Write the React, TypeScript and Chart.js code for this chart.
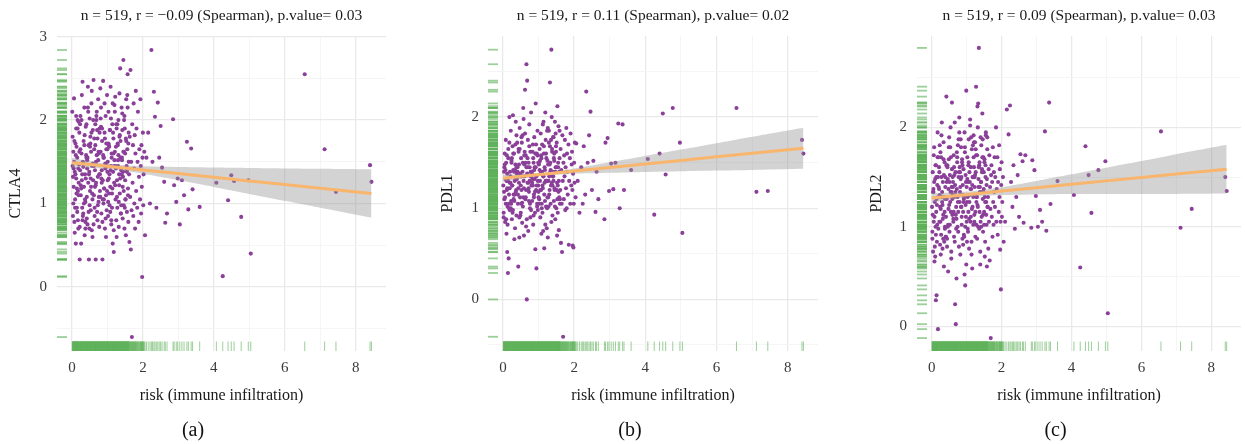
import React, { useEffect, useRef } from 'react';
import { Chart, registerables } from 'chart.js';
Chart.register(...registerables);

// ---- shared risk score (x) ----
const riskX = [
  0.01, 0.02, 0.03, 0.04, 0.05, 0.06, 0.07, 0.08, 0.09, 0.10,
  0.11, 0.12, 0.12, 0.13, 0.14, 0.15, 0.16, 0.17, 0.18, 0.19,
  0.02, 0.04, 0.06, 0.08, 0.10, 0.13, 0.15, 0.17, 0.19, 0.20,
  0.21, 0.22, 0.23, 0.24, 0.25, 0.26, 0.27, 0.28, 0.29, 0.30,
  0.31, 0.32, 0.33, 0.34, 0.35, 0.36, 0.37, 0.38, 0.39, 0.40,
  0.22, 0.24, 0.26, 0.28, 0.30, 0.32, 0.34, 0.36, 0.38, 0.39,
  0.41, 0.42, 0.43, 0.44, 0.45, 0.46, 0.47, 0.48, 0.49, 0.50,
  0.51, 0.52, 0.53, 0.54, 0.55, 0.56, 0.57, 0.58, 0.59, 0.60,
  0.42, 0.44, 0.46, 0.48, 0.50, 0.52, 0.54, 0.56, 0.58, 0.59,
  0.61, 0.62, 0.63, 0.64, 0.65, 0.66, 0.67, 0.68, 0.69, 0.70,
  0.71, 0.72, 0.73, 0.74, 0.75, 0.76, 0.77, 0.78, 0.79, 0.80,
  0.62, 0.64, 0.66, 0.67, 0.69, 0.72, 0.74, 0.76, 0.78, 0.79,
  0.81, 0.82, 0.83, 0.84, 0.85, 0.86, 0.87, 0.88, 0.89, 0.90,
  0.91, 0.92, 0.93, 0.94, 0.95, 0.96, 0.97, 0.98, 0.99, 1.00,
  0.82, 0.84, 0.86, 0.88, 0.90, 0.92, 0.94, 0.96, 0.97, 0.99,
  1.01, 1.02, 1.03, 1.04, 1.05, 1.06, 1.07, 1.08, 1.09, 1.10,
  1.11, 1.12, 1.13, 1.14, 1.15, 1.16, 1.17, 1.18, 1.19, 1.20,
  1.02, 1.04, 1.06, 1.08, 1.10, 1.12, 1.14, 1.16, 1.18, 1.19,
  1.21, 1.22, 1.23, 1.24, 1.25, 1.26, 1.27, 1.28, 1.29, 1.30,
  1.31, 1.32, 1.33, 1.34, 1.35, 1.36, 1.37, 1.38, 1.39, 1.40,
  1.22, 1.24, 1.26, 1.28, 1.30, 1.32, 1.34, 1.36, 1.37, 1.39,
  1.41, 1.42, 1.43, 1.44, 1.45, 1.46, 1.47, 1.48, 1.49, 1.50,
  1.51, 1.52, 1.53, 1.54, 1.55, 1.56, 1.57, 1.58, 1.59, 1.60,
  1.42, 1.44, 1.46, 1.48, 1.50, 1.52, 1.54, 1.56, 1.58, 1.59,
  1.61, 1.62, 1.63, 1.64, 1.65, 1.66, 1.67, 1.68, 1.69, 1.70,
  1.71, 1.72, 1.73, 1.74, 1.75, 1.76, 1.77, 1.78, 1.79, 1.80,
  1.81, 1.82, 1.84, 1.85, 1.86, 1.88, 1.89, 1.90, 1.92, 1.93,
  1.94, 1.95, 1.96, 1.97, 1.98, 1.99, 2.00, 2.01, 2.02, 2.04,
  0.03, 0.07, 0.09, 0.11, 0.14, 0.16, 0.18, 0.05, 0.12, 0.19,
  0.21, 0.25, 0.27, 0.31, 0.33, 0.35, 0.37, 0.23, 0.29, 0.38,
  0.43, 0.45, 0.47, 0.51, 0.53, 0.55, 0.57, 0.41, 0.49, 0.60,
  0.63, 0.65, 0.68, 0.70, 0.73, 0.75, 0.77, 0.61, 0.71, 0.80,
  0.83, 0.85, 0.87, 0.89, 0.93, 0.95, 0.98, 0.81, 0.91, 1.00,
  1.03, 1.05, 1.07, 1.09, 1.13, 1.15, 1.17, 1.01, 1.11, 1.20,
  1.23, 1.25, 1.27, 1.29, 1.33, 1.35, 1.38, 1.21, 1.31, 1.40,
  1.43, 1.45, 1.47, 1.49, 1.53, 1.55, 1.57, 1.41, 1.51, 1.60,
  2.06, 2.10, 2.15, 2.20, 2.24, 2.27, 2.31, 2.34, 2.38, 2.42,
  2.46, 2.50, 2.54, 2.60, 2.63, 2.68, 2.85, 2.88, 2.94, 2.98,
  3.04, 3.10, 3.16, 3.24, 3.28, 3.36, 3.40, 3.60, 4.07, 4.25,
  4.40, 4.49, 4.57, 4.77, 4.97, 5.04, 6.56, 7.12, 7.44, 8.40,
  8.44,
];

// ---- CTLA4 expression ----
const ctla4 = [
  2.10, 1.45, 0.85, 1.62, 1.20, 2.26, 0.78, 1.38, 1.05, 1.72,
  0.52, 1.30, 1.90, 1.12, 0.95, 1.55, 2.00, 0.80, 1.42, 1.25,
  1.80, 1.00, 1.50, 0.65, 1.35, 1.68, 0.90, 1.15, 1.98, 1.47,
  1.85, 0.72, 1.40, 2.05, 1.10, 0.52, 1.60, 1.28, 0.95, 2.46,
  1.50, 0.88, 1.75, 1.20, 2.15, 0.62, 1.35, 1.02, 1.92, 1.58,
  0.33, 1.65, 1.18, 2.30, 0.80, 1.44, 1.00, 1.82, 0.70, 1.30,
  1.95, 1.08, 1.52, 0.75, 2.40, 1.25, 1.70, 0.33, 1.38, 2.02,
  1.15, 1.80, 0.92, 1.62, 2.20, 0.68, 1.45, 1.05, 1.88, 1.28,
  0.82, 1.55, 2.10, 1.35, 0.98, 1.72, 1.20, 2.35, 0.60, 1.48,
  2.48, 1.10, 1.65, 0.85, 1.40, 1.95, 0.33, 1.25, 2.05, 1.58,
  0.90, 1.78, 1.32, 2.25, 1.02, 1.60, 0.72, 1.85, 1.15, 2.38,
  1.45, 0.95, 1.70, 1.22, 2.00, 0.80, 1.52, 1.08, 1.90, 1.35,
  1.62, 2.15, 0.88, 1.40, 1.75, 0.33, 1.28, 2.47, 1.00, 1.55,
  1.18, 1.85, 0.70, 1.48, 2.05, 1.10, 1.65, 0.92, 2.30, 1.38,
  1.92, 1.25, 0.78, 1.58, 1.05, 2.20, 1.42, 0.60, 1.72, 1.15,
  1.50, 0.85, 2.10, 1.30, 1.68, 0.98, 1.88, 1.20, 2.40, 1.45,
  0.75, 1.60, 1.12, 1.95, 0.52, 1.38, 1.78, 0.42, 1.25, 2.18,
  1.02, 1.70, 1.35, 0.90, 2.02, 1.55, 1.18, 1.85, 0.68, 1.45,
  1.62, 2.28, 1.05, 1.42, 0.80, 1.90, 1.28, 0.95, 1.72, 1.52,
  2.00, 0.72, 1.35, 1.80, 1.12, 2.62, 1.55, 0.88, 1.40, 2.15,
  1.22, 1.68, 0.60, 1.95, 1.45, 1.02, 2.32, 1.30, 1.75, 0.98,
  1.55, 2.08, 0.82, 1.38, 2.72, 1.15, 1.62, 0.70, 1.90, 1.28,
  1.05, 1.78, 2.25, 1.40, 0.90, 1.65, 2.55, 1.18, 0.78, 1.50,
  1.88, 1.32, 0.98, 2.05, 1.60, 0.62, 1.45, 2.30, 1.10, 1.72,
  1.35, 0.54, 1.80, 1.08, 2.60, 0.45, 1.50, 0.92, -0.60, 1.95,
  1.25, 1.70, 0.85, 2.20, 1.42, 1.00, 1.82, 0.70, 1.60, 2.35,
  1.15, 1.90, 0.95, 1.50, 2.10, 0.78, 1.32, 1.65, 1.05, 2.25,
  1.45, 0.88, 1.70, 1.20, 0.12, 1.55, 1.85, 0.98, 1.35, 1.62,
  1.32, 1.75, 0.95, 1.58, 1.18, 1.90, 0.70, 1.42, 2.05, 1.10,
  1.62, 1.22, 2.00, 0.85, 1.48, 1.70, 1.05, 1.95, 1.35, 0.78,
  1.42, 2.15, 0.90, 1.68, 1.30, 1.85, 1.12, 1.55, 0.70, 2.00,
  1.78, 1.20, 1.50, 2.10, 0.98, 1.62, 1.35, 0.75, 1.88, 1.08,
  1.30, 1.90, 1.05, 1.55, 1.78, 0.82, 1.45, 2.02, 1.18, 1.65,
  1.72, 1.12, 1.88, 1.40, 0.95, 2.20, 1.60, 1.28, 0.80, 1.52,
  1.45, 1.95, 1.08, 1.70, 1.22, 1.82, 0.88, 2.10, 1.58, 1.35,
  1.20, 1.62, 2.00, 0.95, 1.75, 1.38, 2.15, 1.52, 1.05, 1.85,
  0.62, 1.55, 1.85, 1.00, 2.84, 1.50, 2.34, 2.04, 0.95, 2.21,
  1.55, 1.93, 1.43, 1.26, 0.77, 0.88, 2.01, 1.22, 1.02, 1.30,
  0.75, 1.28, 1.10, 1.74, 0.93, 1.66, 1.17, 0.96, 1.25, 0.13,
  1.04, 1.34, 1.27, 0.84, 1.28, 0.40, 2.55, 1.65, 1.14, 1.46,
  1.26,
];

// ---- PDL1 expression ----
const pdl1 = [
  1.25, 0.95, 1.40, 1.10, 1.60, 0.85, 1.32, 1.05, 1.50, 0.72,
  1.20, 0.52, 1.38, 1.02, 0.29, 1.65, 0.45, 1.15, 2.00, 1.28,
  0.90, 1.45, 1.12, 1.75, 1.30, 0.82, 1.55, 1.00, 1.22, 1.40,
  1.35, 1.85, 1.05, 1.50, 0.88, 1.25, 1.68, 0.98, 1.42, 1.15,
  1.60, 1.08, 1.30, 0.78, 1.48, 1.95, 1.20, 0.92, 1.38, 1.72,
  1.00, 1.52, 1.25, 2.02, 1.10, 0.66, 1.42, 1.18, 1.80, 1.32,
  1.45, 1.05, 0.36, 1.62, 1.28, 0.68, 1.88, 1.12, 1.35, 0.95,
  1.55, 1.20, 1.72, 0.84, 1.40, 1.02, 2.10, 1.30, 0.70, 1.48,
  1.15, 1.65, 0.90, 1.38, 1.25, 1.78, 1.06, 1.50, 1.98, 1.22,
  1.35, 2.30, 1.10, 1.58, 0.80, 2.58, 0.00, 2.40, 1.28, 1.45,
  0.75, 1.50, 1.18, 1.92, 1.30, 1.05, 1.62, 1.40, 0.98, 1.25,
  1.82, 1.12, 1.45, 0.88, 1.55, 1.22, 1.68, 1.00, 1.35, 2.05,
  1.40, 1.08, 1.62, 1.25, 0.82, 1.50, 1.15, 1.78, 1.32, 0.95,
  0.55, 1.45, 1.20, 0.34, 1.60, 1.02, 1.85, 1.30, 1.50, 1.12,
  1.28, 1.70, 0.92, 1.42, 1.18, 2.15, 1.35, 1.05, 1.58, 1.25,
  1.48, 1.10, 1.65, 1.30, 0.90, 1.82, 1.20, 1.55, 1.00, 1.40,
  1.25, 1.92, 0.75, 1.35, 1.60, 0.56, 1.45, 1.08, 2.05, 1.30,
  1.05, 1.52, 1.38, 0.72, 1.70, 1.22, 1.95, 1.15, 1.42, 0.82,
  1.60, 1.30, 0.78, 1.85, 1.12, 0.68, 1.48, 1.02, 1.72, 1.35,
  1.20, 2.38, 1.50, 1.05, 1.75, 2.74, 1.28, 1.62, 0.92, 1.40,
  1.55, 1.00, 1.88, 1.30, 1.15, 1.68, 1.42, 0.85, 2.00, 1.25,
  1.35, 1.78, 1.08, 1.52, 1.20, 1.95, 0.88, 1.45, 1.62, 1.00,
  1.72, 1.28, 2.12, 0.95, 1.50, 1.18, 0.76, 1.40, 1.85, 1.10,
  1.30, 1.60, 1.02, 1.82, 1.45, 0.70, 1.25, 1.90, 1.12, 1.55,
  1.20, 1.65, 0.62, 1.42, 1.05, 0.52, 1.80, 1.30, -0.41, 1.50,
  1.10, 1.58, 1.35, 1.75, 0.98, 1.45, 1.22, 1.88, 1.00, 1.60,
  1.40, 1.15, 1.70, 0.60, 1.30, 1.55, 1.05, 1.82, 1.25, 1.48,
  1.62, 1.20, 0.59, 1.38, 0.57, 1.05, 1.50, 1.28, 1.72, 1.12,
  1.18, 1.42, 0.88, 1.58, 1.30, 1.05, 1.72, 1.48, 1.22, 0.98,
  1.28, 1.55, 0.95, 1.40, 1.15, 1.70, 1.32, 1.08, 1.60, 1.45,
  1.22, 1.48, 1.65, 1.05, 1.35, 1.80, 1.12, 1.40, 0.92, 1.58,
  1.50, 1.20, 1.38, 1.75, 1.08, 1.45, 0.90, 1.62, 1.28, 1.40,
  1.32, 1.55, 1.12, 1.45, 1.70, 1.25, 0.98, 1.38, 1.60, 1.18,
  1.42, 1.20, 1.58, 1.05, 1.35, 1.68, 1.28, 1.50, 0.95, 1.75,
  1.30, 1.52, 1.12, 1.85, 1.40, 1.25, 1.65, 1.02, 1.48, 1.35,
  1.55, 1.22, 1.40, 1.68, 1.10, 1.45, 1.30, 1.78, 1.20, 1.05,
  1.71, 1.30, 0.95, 1.45, 1.05, 1.68, 1.15, 2.28, 1.50, 1.80,
  2.06, 1.20, 1.52, 0.96, 1.40, 1.10, 0.88, 1.72, 1.77, 1.19,
  1.49, 1.21, 1.50, 1.93, 1.00, 1.92, 1.20, 1.42, 1.54, 0.93,
  1.60, 2.04, 1.37, 2.10, 1.72, 0.73, 2.10, 1.18, 1.19, 1.75,
  1.60,
];

// ---- PDL2 expression ----
const pdl2 = [
  1.20, 0.95, 1.55, 0.75, 1.38, 1.05, 1.80, 0.65, 1.25, 1.48,
  1.00, 0.26, 1.62, 1.15, 0.31, 0.85, 1.42, 1.70, -0.03, 1.30,
  0.88, 1.35, 1.72, 1.10, 0.70, 1.50, 1.22, 1.95, 0.98, 1.40,
  1.60, 1.05, 1.32, 0.82, 1.75, 1.18, 0.92, 1.50, 2.05, 1.25,
  0.78, 1.45, 1.12, 1.85, 0.60, 1.30, 1.65, 1.00, 1.40, 0.90,
  1.55, 1.20, 0.72, 1.92, 1.35, 1.08, 1.68, 0.85, 1.28, 1.50,
  1.10, 2.31, 1.45, 0.80, 1.62, 1.00, 0.55, 1.38, 1.80, 1.22,
  0.95, 1.52, 1.25, 2.00, 1.70, 0.75, 1.40, 2.25, 1.12, 1.32,
  1.62, 0.88, 1.48, 1.18, 1.90, 1.02, 1.35, 0.68, 1.58, 1.28,
  1.45, 1.08, 1.72, 0.90, 1.30, 2.05, 0.22, 1.55, 0.02, 1.20,
  0.48, 1.38, 1.65, 1.00, 1.82, 1.15, 1.50, 0.80, 1.95, 1.25,
  1.05, 1.60, 0.85, 1.42, 1.12, 1.75, 1.30, 0.95, 1.55, 2.10,
  1.35, 0.72, 1.88, 1.20, 1.50, 1.02, 1.68, 0.88, 1.42, 1.15,
  1.58, 0.92, 1.30, 0.52, 1.75, 0.41, 1.22, 1.45, 2.37, 1.05,
  1.40, 1.80, 1.10, 1.62, 0.82, 1.28, 1.95, 1.00, 1.52, 0.62,
  1.25, 1.70, 0.98, 1.45, 1.15, 1.88, 0.78, 1.55, 1.32, 2.02,
  1.05, 1.60, 1.38, 0.85, 1.78, 0.58, 1.20, 1.50, 1.02, 1.92,
  1.48, 0.95, 1.65, 1.25, 2.08, 1.10, 0.72, 1.42, 1.82, 1.30,
  1.60, 1.12, 1.40, 1.85, 0.90, 1.55, 2.41, 1.02, 1.30, 1.72,
  2.21, 1.20, 2.24, 1.48, 2.80, 0.98, 1.65, 1.35, 0.62, 1.90,
  1.05, 1.52, 1.78, 1.25, 0.88, 2.00, 1.40, 1.62, 1.15, 0.75,
  1.45, 1.82, 1.10, 1.58, 2.14, 1.28, 0.95, 1.70, 1.38, 1.02,
  1.68, 1.30, 0.85, 1.50, 1.95, 1.12, 1.42, 0.60, 1.78, 1.20,
  1.00, 1.55, 1.88, 1.35, 1.15, 0.70, 1.62, 1.25, 1.48, 1.90,
  1.30, 0.78, 1.58, 1.05, 1.72, 0.66, 1.40, 1.18, -0.12, 1.52,
  1.62, 1.10, 1.45, 0.90, 1.80, 1.25, 1.02, 1.55, 1.35, 1.70,
  1.20, 1.50, 2.00, 1.05, 1.38, 1.70, 0.92, 1.45, 1.15, 1.82,
  1.30, 1.58, 0.77, 1.05, 0.37, 1.42, 1.65, 1.10, 1.25, 1.50,
  1.12, 1.45, 0.80, 1.62, 1.28, 1.02, 1.50, 1.35, 0.92, 1.70,
  1.38, 1.05, 1.70, 1.22, 0.88, 1.52, 1.15, 1.82, 1.30, 0.98,
  1.28, 1.60, 1.02, 1.45, 1.80, 1.15, 1.35, 0.90, 1.68, 1.50,
  1.15, 1.52, 1.35, 0.98, 1.70, 1.25, 1.88, 1.40, 1.08, 1.60,
  1.48, 1.20, 1.65, 1.32, 0.90, 1.80, 1.10, 1.55, 1.25, 1.40,
  1.30, 1.62, 1.08, 1.45, 1.90, 1.18, 1.50, 0.85, 1.38, 1.70,
  1.50, 1.15, 1.72, 1.30, 1.00, 1.60, 1.40, 1.85, 1.22, 1.05,
  1.35, 1.70, 1.12, 1.55, 1.25, 1.92, 1.02, 1.45, 1.65, 1.20,
  0.85, 1.05, 2.18, 1.93, 2.22, 1.45, 1.20, 1.62, 0.98, 1.30,
  1.52, 1.10, 1.73, 1.66, 1.04, 1.72, 0.99, 1.67, 1.57, 1.31,
  1.00, 1.17, 1.05, 1.96, 0.96, 2.25, 1.23, 1.46, 1.32, 0.59,
  1.81, 1.52, 1.14, 1.57, 1.66, 0.13, 1.96, 0.99, 1.18, 1.50,
  1.36,
];

// ---- linear fit with 95% band ----
const bandX = [0, 0.6, 1.2, 2, 3, 4, 5, 6, 7, 8.44];
const ctla4Fit = [1.49, 1.464, 1.437, 1.402, 1.359, 1.315, 1.271, 1.227, 1.183, 1.12];
const ctla4Low = [1.433, 1.426, 1.407, 1.358, 1.281, 1.199, 1.116, 1.033, 0.949, 0.83];
const ctla4High = [1.547, 1.502, 1.467, 1.446, 1.437, 1.431, 1.426, 1.421, 1.417, 1.41];
const pdl1Fit = [1.33, 1.353, 1.377, 1.408, 1.447, 1.486, 1.525, 1.564, 1.603, 1.659];
const pdl1Low = [1.29, 1.329, 1.362, 1.379, 1.389, 1.398, 1.406, 1.414, 1.421, 1.434];
const pdl1High = [1.37, 1.377, 1.392, 1.437, 1.505, 1.574, 1.644, 1.714, 1.785, 1.884];
const pdl2Fit = [1.29, 1.311, 1.331, 1.359, 1.393, 1.428, 1.462, 1.496, 1.531, 1.58];
const pdl2Low = [1.24, 1.276, 1.302, 1.319, 1.325, 1.329, 1.329, 1.33, 1.331, 1.335];
const pdl2High = [1.34, 1.346, 1.36, 1.399, 1.461, 1.528, 1.595, 1.662, 1.731, 1.825];

// ---- ticks ----
const xTicks = [0, 1, 2, 3, 4, 5, 6, 7, 8];
const xLabels = [0, 2, 4, 6, 8];
const ctla4Ticks = [-0.5, 0, 0.5, 1, 1.5, 2, 2.5, 3];
const pdl1Ticks = [-0.5, 0, 0.5, 1, 1.5, 2, 2.5];
const pdl2Ticks = [0, 0.5, 1, 1.5, 2, 2.5];
const yLabels = [0, 1, 2, 3];

const titles = [
  'n = 519, r = \u22120.09 (Spearman), p.value= 0.03',
  'n = 519, r = 0.11 (Spearman), p.value= 0.02',
  'n = 519, r = 0.09 (Spearman), p.value= 0.03',
];
const yNames = ['CTLA4', 'PDL1', 'PDL2'];
const captions = ['(a)', '(b)', '(c)'];
const xName = 'risk (immune infiltration)';

const FONT = "'Liberation Serif', 'DejaVu Serif', serif";

const panels = [
  { y: ctla4, fit: ctla4Fit, low: ctla4Low, high: ctla4High, yTicks: ctla4Ticks, yMin: -0.767, yMax: 3.008,
    left: 0, width: 394, yWidth: 57, padRight: 8, yTitlePad: 6.4, yTickPad: 10 },
  { y: pdl1, fit: pdl1Fit, low: pdl1Low, high: pdl1High, yTicks: pdl1Ticks, yMin: -0.566, yMax: 2.89,
    left: 438, width: 384, yWidth: 50, padRight: 0, yTitlePad: 0.4, yTickPad: 9 },
  { y: pdl2, fit: pdl2Fit, low: pdl2Low, high: pdl2High, yTicks: pdl2Ticks, yMin: -0.25, yMax: 2.92,
    left: 867, width: 378, yWidth: 50, padRight: 1, yTitlePad: 0, yTickPad: 10 },
];

const rugPlugin = {
  id: 'rug',
  beforeDatasetsDraw(chart: any) {
    const { ctx, chartArea, scales } = chart;
    const pts = chart.data.datasets[3].data as { x: number; y: number }[];
    ctx.save();
    ctx.strokeStyle = 'rgba(95,178,90,0.62)';
    for (const p of pts) {
      const px = scales.x.getPixelForValue(p.x);
      const py = scales.y.getPixelForValue(p.y);
      ctx.lineWidth = 1;
      ctx.beginPath();
      ctx.moveTo(px, chartArea.bottom);
      ctx.lineTo(px, chartArea.bottom - 9.5);
      ctx.stroke();
      ctx.lineWidth = 1.8;
      ctx.beginPath();
      ctx.moveTo(chartArea.left, py);
      ctx.lineTo(chartArea.left + 10, py);
      ctx.stroke();
    }
    ctx.restore();
  },
};

function Panel({ idx }: { idx: number }) {
  const ref = useRef<HTMLCanvasElement>(null);
  const cfg = panels[idx];
  useEffect(() => {
    if (!ref.current) return;
    const n = Math.min(riskX.length, cfg.y.length);
    const pts = [] as { x: number; y: number }[];
    for (let i = 0; i < n; i++) pts.push({ x: riskX[i], y: cfg.y[i] });
    const majorX = (v: number) => xLabels.includes(v);
    const majorY = (v: number) => yLabels.includes(v);
    const chart = new Chart(ref.current, {
      type: 'scatter',
      data: {
        datasets: [
          {
            type: 'line',
            data: bandX.map((x, i) => ({ x, y: cfg.fit[i] })),
            borderColor: '#f9b56c',
            borderWidth: 3,
            pointRadius: 0,
            showLine: true,
            fill: false,
            tension: 0,
          } as any,
          {
            type: 'line',
            data: bandX.map((x, i) => ({ x, y: cfg.high[i] })),
            borderColor: 'rgba(0,0,0,0)',
            borderWidth: 1,
            backgroundColor: 'rgba(150,150,150,0.42)',
            pointRadius: 0,
            showLine: true,
            fill: '+1',
            tension: 0.2,
          } as any,
          {
            type: 'line',
            data: bandX.map((x, i) => ({ x, y: cfg.low[i] })),
            borderColor: 'rgba(0,0,0,0)',
            borderWidth: 1,
            pointRadius: 0,
            showLine: true,
            fill: false,
            tension: 0.2,
          } as any,
          {
            type: 'scatter',
            data: pts,
            backgroundColor: '#8a3f98',
            borderWidth: 0,
            pointRadius: 2.05,
          } as any,
        ],
      },
      options: {
        animation: false,
        responsive: false,
        events: [],
        layout: { padding: { left: 0, right: cfg.padRight, top: 0, bottom: 0 } },
        plugins: {
          legend: { display: false },
          tooltip: { enabled: false },
          title: {
            display: true,
            text: titles[idx],
            fullSize: false,
            color: '#1a1a1a',
            font: { family: FONT, size: 15.5, weight: 'normal' },
            padding: { top: 6.7, bottom: 10.7 },
          },
          subtitle: {
            display: true,
            text: captions[idx],
            position: 'bottom',
            color: '#111',
            font: { family: FONT, size: 20, weight: 'normal' },
            padding: { top: 10, bottom: 1 },
          },
        },
        scales: {
          x: {
            type: 'linear',
            min: -0.42,
            max: 8.85,
            afterBuildTicks: (s: any) => { s.ticks = xTicks.map((v) => ({ value: v })); },
            afterFit: (s: any) => { s.height = 58; },
            ticks: {
              autoSkip: false,
              maxRotation: 0,
              padding: 8,
              color: '#3a3a3a',
              font: { family: FONT, size: 15 },
              callback: (v: any) => (majorX(Number(v)) ? String(v) : ''),
            },
            grid: {
              drawTicks: false,
              color: (c: any) => (c.tick && majorX(c.tick.value) ? '#e9e9e9' : '#f4f4f4'),
              lineWidth: (c: any) => (c.tick && majorX(c.tick.value) ? 1.3 : 0.9),
            },
            border: { display: false },
            title: {
              display: true,
              text: xName,
              color: '#1a1a1a',
              font: { family: FONT, size: 16 },
              padding: { top: 0, bottom: 3.4 },
            },
          },
          y: {
            type: 'linear',
            min: cfg.yMin,
            max: cfg.yMax,
            afterBuildTicks: (s: any) => { s.ticks = cfg.yTicks.map((v) => ({ value: v })); },
            afterFit: (s: any) => { s.width = cfg.yWidth; },
            ticks: {
              autoSkip: false,
              padding: cfg.yTickPad,
              color: '#3a3a3a',
              font: { family: FONT, size: 15 },
              callback: (v: any) => (majorY(Number(v)) ? String(v) : ''),
            },
            grid: {
              drawTicks: false,
              color: (c: any) => (c.tick && majorY(c.tick.value) ? '#e9e9e9' : '#f4f4f4'),
              lineWidth: (c: any) => (c.tick && majorY(c.tick.value) ? 1.3 : 0.9),
            },
            border: { display: false },
            title: {
              display: true,
              text: yNames[idx],
              color: '#1a1a1a',
              font: { family: FONT, size: 16 },
              padding: { top: cfg.yTitlePad, bottom: 0 },
            },
          },
        },
      } as any,
      plugins: [rugPlugin as any],
    });
    return () => chart.destroy();
  }, []);
  return (
    <canvas
      ref={ref}
      width={cfg.width}
      height={444}
      style={{ position: 'absolute', left: cfg.left, top: 0, width: cfg.width, height: 444 }}
    />
  );
}

export default function App() {
  return (
    <div style={{ position: 'absolute', left: 0, top: 0, width: 1245, height: 444, background: '#fff', overflow: 'hidden' }}>
      <Panel idx={0} />
      <Panel idx={1} />
      <Panel idx={2} />
    </div>
  );
}
